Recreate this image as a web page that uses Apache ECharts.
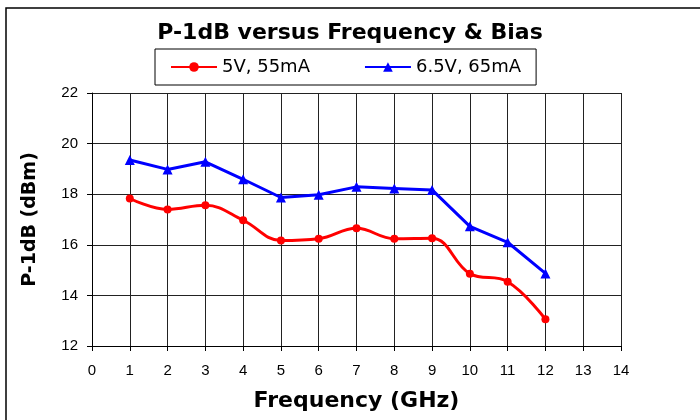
<!DOCTYPE html>
<html>
<head>
<meta charset="utf-8">
<script src="https://cdn.jsdelivr.net/npm/echarts@6/dist/echarts.min.js"></script>
<style>
  html, body { margin: 0; padding: 0; background: #fff; }
  #chart { width: 700px; height: 420px; }
</style>
</head>
<body>
<div id="chart"></div>
<script>
  // frequency points in GHz
  const freq = [1, 2, 3, 4, 5, 6, 7, 8, 9, 10, 11, 12];
  // P-1dB in dBm
  const bias5V = [17.83, 17.4, 17.56, 16.97, 16.17, 16.24, 16.65, 16.24, 16.26, 14.86, 14.54, 13.06];
  const bias65V = [19.35, 18.98, 19.28, 18.59, 17.87, 17.98, 18.29, 18.23, 18.17, 16.73, 16.1, 14.87];
  const seriesNames = ['5V, 55mA', '6.5V, 65mA'];

  const font = 'Liberation Sans, Arial, sans-serif';
  const wideFont = 'DejaVu Sans, sans-serif';
  const pairs = (ys) => freq.map((f, i) => [f, ys[i]]);

  const chart = echarts.init(document.getElementById('chart'));
  chart.setOption({
    animation: false,
    backgroundColor: '#fff',
    graphic: [{
      type: 'rect',
      shape: {x: 6, y: 8, width: 710, height: 430},
      style: {fill: 'none', stroke: '#000', lineWidth: 1.5},
      z: -1
    }],
    title: {
      text: 'P-1dB versus Frequency & Bias',
      left: 'center',
      top: 17,
      textStyle: {fontFamily: wideFont, fontSize: 22, fontWeight: 'bold', color: '#000'}
    },
    legend: {
      data: seriesNames,
      left: 155,
      top: 49,
      padding: [9, 15, 9, 15],
      borderColor: '#000',
      borderWidth: 1,
      itemWidth: 46,
      itemHeight: 12,
      itemGap: 54,
      textStyle: {fontFamily: wideFont, fontSize: 18, color: '#000'}
    },
    grid: {left: 92, top: 93, right: 79, bottom: 74, outerBoundsMode: 'none'},
    xAxis: {
      type: 'value',
      min: 0,
      max: 14,
      interval: 1,
      name: 'Frequency (GHz)',
      nameLocation: 'middle',
      nameGap: 44,
      nameTextStyle: {fontFamily: wideFont, fontSize: 22, fontWeight: 'bold', color: '#000'},
      axisLine: {lineStyle: {color: '#000', width: 1}},
      axisTick: {inside: false, length: 5, lineStyle: {color: '#000'}},
      axisLabel: {fontFamily: font, fontSize: 15, color: '#000', margin: 17},
      splitLine: {show: true, lineStyle: {color: '#222', width: 1}}
    },
    yAxis: {
      type: 'value',
      min: 12,
      max: 22,
      interval: 2,
      name: 'P-1dB (dBm)',
      nameLocation: 'middle',
      nameGap: 52,
      nameTextStyle: {fontFamily: wideFont, fontSize: 19, fontWeight: 'bold', color: '#000'},
      axisLine: {show: true, lineStyle: {color: '#000', width: 1}},
      axisTick: {show: true, inside: false, length: 5, lineStyle: {color: '#000'}},
      axisLabel: {fontFamily: font, fontSize: 15, color: '#000', margin: 14},
      splitLine: {show: true, lineStyle: {color: '#222', width: 1}}
    },
    series: [
      {
        name: seriesNames[0],
        type: 'line',
        data: pairs(bias5V),
        smooth: 0.4,
        symbol: 'circle',
        symbolSize: 8,
        lineStyle: {color: '#ff0000', width: 3},
        itemStyle: {color: '#ff0000'}
      },
      {
        name: seriesNames[1],
        type: 'line',
        data: pairs(bias65V),
        symbol: 'triangle',
        symbolSize: 10,
        lineStyle: {color: '#0000ff', width: 3},
        itemStyle: {color: '#0000ff'}
      }
    ]
  });
</script>
</body>
</html>
